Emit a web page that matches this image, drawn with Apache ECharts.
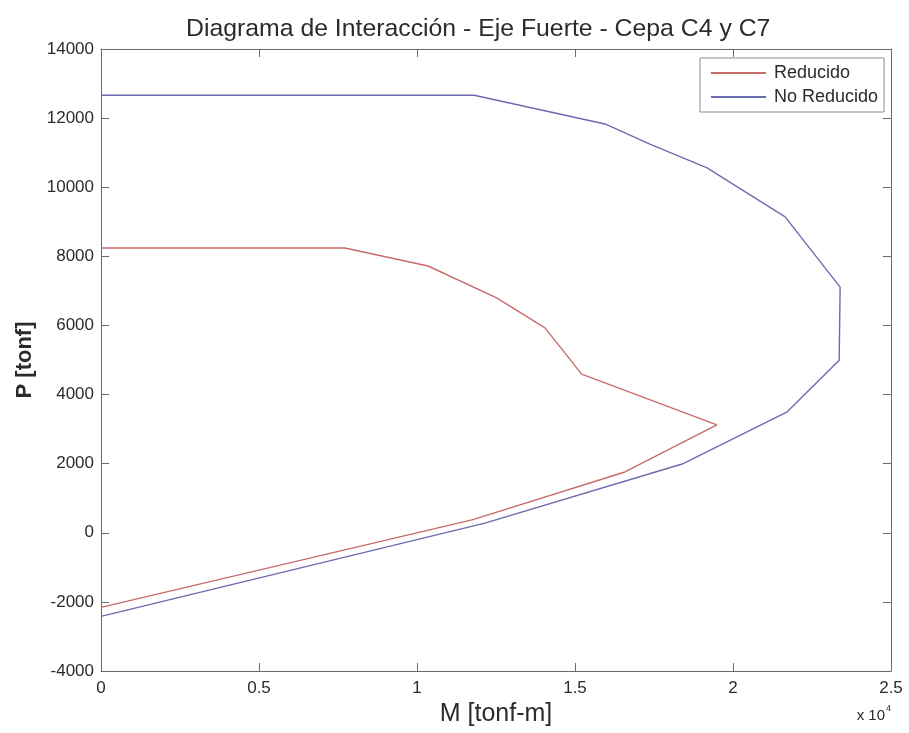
<!DOCTYPE html>
<html>
<head>
<meta charset="utf-8">
<title>Diagrama de Interacción</title>
<script src="https://cdn.jsdelivr.net/npm/echarts@6/dist/echarts.min.js"></script>
<style>
  html, body { margin: 0; padding: 0; background: #fff; }
  #chart { width: 909px; height: 733px; }
</style>
</head>
<body>
<div id="chart"></div>
<script>
// Interaction diagram data: moment M [tonf-m] and axial load P [tonf]
const momentReducido = [0, 7720, 10350, 12520, 14050, 15210, 19490, 16580, 11770, 0];
const axialReducido = [8240, 8240, 7720, 6800, 5930, 4590, 3120, 1760, 380, -2160];

const momentNoReducido = [0, 11810, 15950, 17370, 19180, 21650, 23390, 23360, 21700, 18390, 12150, 0];
const axialNoReducido = [12660, 12660, 11830, 11250, 10560, 9140, 7110, 4990, 3490, 1990, 280, -2420];

const seriesNames = ['Reducido', 'No Reducido'];
const xTickLabels = ['0', '0.5', '1', '1.5', '2', '2.5'];
const yTickLabels = ['-4000', '-2000', '0', '2000', '4000', '6000', '8000', '10000', '12000', '14000'];

const pairs = (xs, ys) => xs.map((x, i) => [x, ys[i]]);

const textColor = '#2b2b2b';
const axisColor = '#6a6a6a';
const font = 'Liberation Sans, Arial, sans-serif';

const chart = echarts.init(document.getElementById('chart'), null, { renderer: 'canvas' });

const tickCommon = { show: true, inside: true, length: 8, lineStyle: { color: axisColor, width: 1 } };

chart.setOption({
  animation: false,
  backgroundColor: '#ffffff',
  textStyle: { fontFamily: font },
  title: {
    text: 'Diagrama de Interacción - Eje Fuerte - Cepa C4 y C7',
    left: 186,
    top: 17,
    padding: 0,
    textStyle: { fontFamily: font, fontSize: 24.8, fontWeight: 'normal', color: textColor }
  },
  legend: {
    orient: 'vertical',
    left: 700,
    top: 58,
    itemWidth: 55,
    itemHeight: 14,
    itemGap: 6,
    padding: [6, 6, 6, 10],
    backgroundColor: '#ffffff',
    borderColor: '#8a8a8a',
    borderWidth: 1,
    borderRadius: 0,
    itemStyle: { opacity: 0 },
    textStyle: { fontFamily: font, fontSize: 18, color: textColor, padding: [0, 0, 0, 3] },
    data: seriesNames
  },
  grid: {
    left: 101, right: 18, top: 49, bottom: 62,
    containLabel: false,
    outerBoundsMode: 'none'
  },
  xAxis: [
    {
      type: 'value',
      min: 0, max: 25000, interval: 5000,
      position: 'bottom',
      name: 'M [tonf-m]',
      nameLocation: 'middle',
      nameGap: 31,
      nameTextStyle: { fontFamily: font, fontSize: 25, color: textColor },
      axisLine: { show: true, onZero: false, lineStyle: { color: axisColor, width: 1 } },
      axisTick: tickCommon,
      splitLine: { show: false },
      axisLabel: {
        margin: 9,
        fontSize: 17,
        color: textColor,
        formatter: (v) => xTickLabels[Math.round(v / 5000)]
      }
    },
    {
      type: 'value',
      min: 0, max: 25000, interval: 5000,
      position: 'top',
      axisLine: { show: true, onZero: false, lineStyle: { color: axisColor, width: 1 } },
      axisTick: tickCommon,
      axisLabel: { show: false },
      splitLine: { show: false }
    }
  ],
  yAxis: [
    {
      type: 'value',
      min: -4000, max: 14000, interval: 2000,
      position: 'left',
      name: 'P [tonf]',
      nameLocation: 'middle',
      nameGap: 59,
      nameTextStyle: { fontFamily: font, fontSize: 22, fontWeight: 'bold', color: textColor },
      axisLine: { show: true, onZero: false, lineStyle: { color: axisColor, width: 1 } },
      axisTick: tickCommon,
      splitLine: { show: false },
      axisLabel: {
        margin: 7,
        fontSize: 17,
        color: textColor,
        formatter: (v) => yTickLabels[Math.round((v + 4000) / 2000)]
      }
    },
    {
      type: 'value',
      min: -4000, max: 14000, interval: 2000,
      position: 'right',
      axisLine: { show: true, onZero: false, lineStyle: { color: axisColor, width: 1 } },
      axisTick: tickCommon,
      axisLabel: { show: false },
      splitLine: { show: false }
    }
  ],
  series: [
    {
      name: seriesNames[0],
      type: 'line',
      xAxisIndex: 0, yAxisIndex: 0,
      data: pairs(momentReducido, axialReducido),
      symbol: 'none',
      smooth: false,
      lineStyle: { color: '#c86b6b', width: 1.4 },
      itemStyle: { color: '#c86b6b' }
    },
    {
      name: seriesNames[1],
      type: 'line',
      xAxisIndex: 0, yAxisIndex: 0,
      data: pairs(momentNoReducido, axialNoReducido),
      symbol: 'none',
      smooth: false,
      lineStyle: { color: '#6b6bb0', width: 1.4 },
      itemStyle: { color: '#6b6bb0' }
    }
  ],
  graphic: [
    {
      type: 'text',
      right: 18,
      top: 704,
      style: {
        text: '{b|x 10}{s|4}',
        rich: {
          b: { fontFamily: font, fontSize: 15, fill: textColor, verticalAlign: 'bottom' },
          s: { fontFamily: font, fontSize: 9, fill: textColor, verticalAlign: 'top', padding: [0, 0, 10, 1] }
        }
      }
    }
  ]
});
</script>
</body>
</html>
